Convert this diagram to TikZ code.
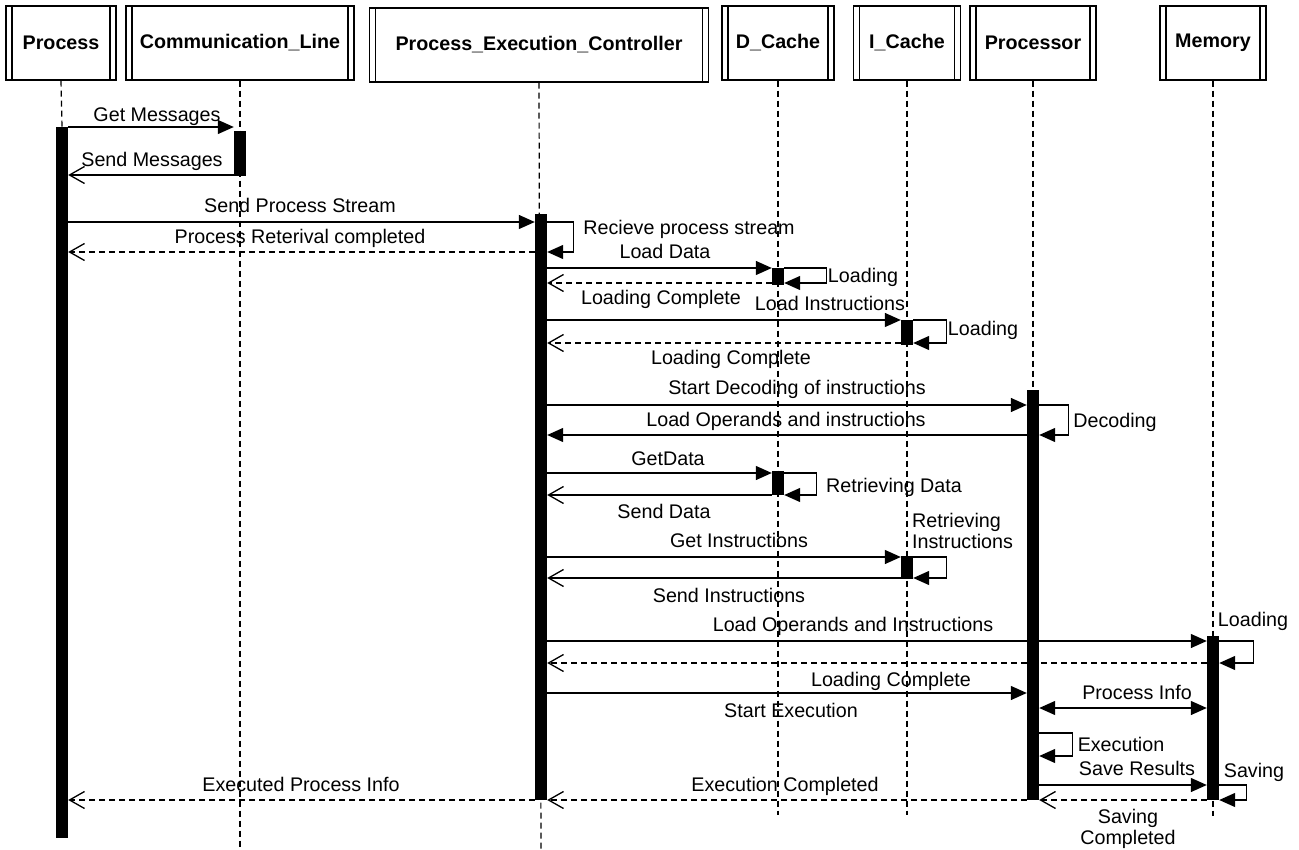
\documentclass[tikz,border=0pt]{standalone}
\usepackage{fontspec}
\setmainfont{Liberation Sans}
\usetikzlibrary{arrows.meta,calc}
\begin{document}
\begin{tikzpicture}[x=1pt,y=-1pt,
 font=\fontsize{19.7}{22}\selectfont,
 hdr/.style={draw, line width=1.2pt, inner sep=0pt, minimum height=74pt,
   font=\fontsize{19.7}{22}\selectfont\bfseries,
   path picture={
     \draw[line width=1.2pt] ([xshift=6pt]path picture bounding box.north west) -- ([xshift=6pt]path picture bounding box.south west);
     \draw[line width=1.2pt] ([xshift=-6pt]path picture bounding box.north east) -- ([xshift=-6pt]path picture bounding box.south east);}},
 life/.style={line width=1.2pt, dash pattern=on 6pt off 4pt},
 actbar/.style={fill=black, draw=none, inner sep=0pt, minimum width=12pt},
 msg/.style={line width=1.3pt, -{Triangle[length=16pt,width=14pt]}},
 dmsg/.style={line width=1.3pt, {Triangle[length=16pt,width=14pt]}-{Triangle[length=16pt,width=14pt]}},
 ret/.style={line width=1.3pt, dash pattern=on 6pt off 4pt, -{Straight Barb[length=15pt,width=17pt]}},
 rets/.style={line width=1.3pt, -{Straight Barb[length=15pt,width=17pt]}},
 lbl/.style={anchor=base, inner sep=0pt},
]
\useasboundingbox (0,0) rectangle (1299,850);

% headers
\node[hdr, minimum width=110pt] (hP) at (61,43) {Process};
\node[hdr, minimum width=228pt] (hC) at (240,43) {Communication\_Line};
\node[hdr, minimum width=339pt] (hE) at (539,45) {Process\_Execution\_Controller};
\node[hdr, minimum width=112pt] (hD) at (778,43) {D\_Cache};
\node[hdr, minimum width=107pt] (hI) at (907,43) {I\_Cache};
\node[hdr, minimum width=126pt] (hPr) at (1033,43) {Processor};
\node[hdr, minimum width=106pt] (hM) at (1213,43) {Memory};

% activation bars
\node[actbar, minimum height=711pt] (bP) at (62,482.5) {};
\node[actbar, minimum height=45pt] (bC) at (240,153.5) {};
\node[actbar, minimum height=586pt] (bE) at (541,507) {};
\node[actbar, minimum height=17pt] (bD1) at (778,276.5) {};
\node[actbar, minimum height=25pt] (bI1) at (907,332.5) {};
\node[actbar, minimum height=410pt] (bPr) at (1033,595) {};
\node[actbar, minimum height=24pt] (bD2) at (778,483) {};
\node[actbar, minimum height=23pt] (bI2) at (907,567.5) {};
\node[actbar, minimum height=164pt] (bM) at (1213,718) {};

% lifeline ends
\coordinate (eC) at (240,850);
\coordinate (eE) at (541,850);
\coordinate (eD) at (778,815);
\coordinate (eI) at (907,815);
\coordinate (eM) at (1213,816);

\draw[life] (hP.south) -- (bP.north);
\draw[life] (hC.south) -- (eC);
\draw[life] (hE.south) -- (eE);
\draw[life] (hD.south) -- (eD);
\draw[life] (hI.south) -- (eI);
\draw[life] (hPr.south) -- (bPr.north);
\draw[life] (hM.south) -- (eM);

% bars drawn over lifelines
\foreach \b in {bP,bC,bE,bD1,bI1,bPr,bD2,bI2,bM}{
  \fill (\b.north west) rectangle (\b.south east);
}

% messages
\draw[msg] (bP.east |- 0,127) -- (bC.west |- 0,127);
\node[lbl] (l01) at (157,122) {Get Messages};
\draw[rets] (bC.west |- 0,175) -- (bP.east |- 0,175);
\node[lbl] (l02) at (152,167) {Send Messages};

\draw[msg] (bP.east |- 0,222) -- (bE.west |- 0,222);
\node[lbl] (l03) at (300,213) {Send Process Stream};
\draw[ret] (bE.west |- 0,252) -- (bP.east |- 0,252);
\node[lbl] (l04) at (300,244) {Process Reterival completed};
\draw[msg] (bE.east |- 0,222) -- ++(26,0) |- (bE.east |- 0,252);
\node[lbl] (l05) at (689,235) {Recieve process stream};

\draw[msg] (bE.east |- 0,268) -- (bD1.west |- 0,268);
\node[lbl] (l06) at (665,259) {Load Data};
\draw[msg] (bD1.east |- 0,268) -- ++(42,0) |- (bD1.east |- 0,283);
\node[lbl] (l07) at (863,283) {Loading};
\draw[ret] (bD1.west |- 0,283) -- (bE.east |- 0,283);
\node[lbl] (l08) at (661,305) {Loading Complete};

\draw[msg] (bE.east |- 0,320) -- (bI1.west |- 0,320);
\node[lbl] (l09) at (830,311) {Load Instructions};
\draw[msg] (bI1.east |- 0,320) -- ++(33,0) |- (bI1.east |- 0,343);
\node[lbl] (l10) at (983,336) {Loading};
\draw[ret] (bI1.west |- 0,343) -- (bE.east |- 0,343);
\node[lbl] (l11) at (731,365) {Loading Complete};

\draw[msg] (bE.east |- 0,405) -- (bPr.west |- 0,405);
\node[lbl] (l12) at (797,395) {Start Decoding of instructions};
\draw[msg] (bPr.east |- 0,405) -- ++(29,0) |- (bPr.east |- 0,435);
\node[lbl] (l13) at (1115,428) {Decoding};
\draw[msg] (bPr.west |- 0,435) -- (bE.east |- 0,435);
\node[lbl] (l14) at (786,426) {Load Operands and instructions};

\draw[msg] (bE.east |- 0,473) -- (bD2.west |- 0,473);
\node[lbl] (l15) at (668,465) {GetData};
\draw[msg] (bD2.east |- 0,473) -- ++(32,0) |- (bD2.east |- 0,495);
\node[lbl] (l16) at (894,492) {Retrieving Data};
\draw[rets] (bD2.west |- 0,495) -- (bE.east |- 0,495);
\node[lbl] (l17) at (664,518) {Send Data};

\node[lbl, anchor=base west] (l18) at (912,527) {Retrieving};
\node[lbl, anchor=base west] (l19) at (912,548) {Instructions};
\draw[msg] (bE.east |- 0,557) -- (bI2.west |- 0,557);
\node[lbl] (l20) at (739,547) {Get Instructions};
\draw[msg] (bI2.east |- 0,557) -- ++(33,0) |- (bI2.east |- 0,578);
\draw[rets] (bI2.west |- 0,578) -- (bE.east |- 0,578);
\node[lbl] (l21) at (729,602) {Send Instructions};

\draw[msg] (bE.east |- 0,641) -- (bM.west |- 0,641);
\node[lbl] (l22) at (853,631) {Load Operands and Instructions};
\draw[msg] (bM.east |- 0,641) -- ++(34,0) |- (bM.east |- 0,663);
\node[lbl] (l23) at (1253,626) {Loading};
\draw[ret] (bM.west |- 0,663) -- (bE.east |- 0,663);

\draw[msg] (bE.east |- 0,693) -- (bPr.west |- 0,693);
\node[lbl] (l24) at (891,686) {Loading Complete};
\node[lbl] (l25) at (791,717) {Start Execution};
\draw[dmsg] (bPr.east |- 0,708) -- (bM.west |- 0,708);
\node[lbl] (l26) at (1137,699) {Process Info};

\draw[msg] (bPr.east |- 0,733) -- ++(33,0) |- (bPr.east |- 0,756);
\node[lbl] (l27) at (1121,751) {Execution};

\draw[msg] (bPr.east |- 0,785) -- (bM.west |- 0,785);
\node[lbl] (l28) at (1137,775) {Save Results};
\draw[msg] (bM.east |- 0,785) -- ++(27,0) |- (bM.east |- 0,800);
\node[lbl] (l29) at (1254,777) {Saving};
\draw[ret] (bM.west |- 0,800) -- (bPr.east |- 0,800);
\node[lbl] (l30) at (1128,823) {Saving};
\node[lbl] (l31) at (1128,844) {Completed};

\draw[ret] (bPr.west |- 0,800) -- (bE.east |- 0,800);
\node[lbl] (l32) at (785,791) {Execution Completed};
\draw[ret] (bE.west |- 0,800) -- (bP.east |- 0,800);
\node[lbl] (l33) at (301,791) {Executed Process Info};
\end{tikzpicture}
\end{document}
